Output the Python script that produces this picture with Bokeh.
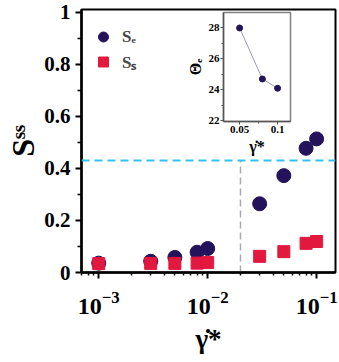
import math
from bokeh.plotting import figure
from bokeh.models import (Range1d, FixedTicker, Span, Legend, LegendItem, NumeralTickFormatter)
from bokeh.layouts import column
from bokeh.embed import file_html
from bokeh.resources import INLINE

# ---- data ----
shear_rate = [0.001, 0.003, 0.005, 0.008, 0.01, 0.03, 0.05, 0.08, 0.1]
S_e = [0.036, 0.043, 0.058, 0.078, 0.092, 0.264, 0.372, 0.477, 0.513]
S_s = [0.034, 0.035, 0.035, 0.036, 0.038, 0.062, 0.080, 0.112, 0.119]
threshold_rate = 0.02
threshold_S = 0.43

inset_rate = [0.05, 0.08, 0.1]
inset_theta = [28.0, 24.7, 24.1]

y_ticks = [0, 0.2, 0.4, 0.6, 0.8, 1.0]
y_minor = [0.1, 0.3, 0.5, 0.7, 0.9]
x_ticks = [1e-3, 1e-2, 1e-1]
x_minor = [k * 10.0 ** e for e in (-4, -3, -2, -1) for k in range(2, 10)]

inset_x_ticks = [0.05, 0.1]
inset_x_minor = [0.075]
inset_x_labels = ["0.05", "0.1"]
inset_y_ticks = [22, 24, 26, 28]
inset_y_minor = [23, 25, 27]

FONT = "Liberation Serif"
NAVY = "#23135a"
RED = "#e3183f"
CYAN = "#2ec3f2"

# ---- main plot ----
p = figure(width=339, height=362, x_axis_type="log",
           x_range=Range1d(0.000695, 0.149), y_range=Range1d(0, 1.01),
           min_border_left=81, min_border_right=3, min_border_top=9, min_border_bottom=90,
           output_backend="svg", toolbar_location=None)
p.grid.visible = False
p.outline_line_color = "black"
p.outline_line_width = 2
p.outline_line_alpha = 1

for ax in (p.xaxis[0], p.yaxis[0]):
    ax.axis_line_width = 2.5
    ax.major_tick_line_width = 2
    ax.minor_tick_line_width = 1.5
    ax.major_tick_in = 0
    ax.minor_tick_in = 0
    ax.major_tick_out = 6
    ax.minor_tick_out = 4
    ax.major_label_text_font = FONT
    ax.major_label_text_font_style = "bold"
    ax.major_label_text_color = "black"
    ax.axis_label_text_font = FONT
    ax.axis_label_text_font_style = "bold"
    ax.axis_label_text_color = "black"

p.yaxis.ticker = FixedTicker(ticks=y_ticks, minor_ticks=y_minor)
p.yaxis.formatter = NumeralTickFormatter(format="0.[0]")
p.yaxis.major_label_text_font_size = "21px"
p.yaxis.major_label_standoff = 5
p.yaxis.axis_label = "Sˢˢ"
p.yaxis.axis_label_text_font_size = "32px"
p.yaxis.axis_label_standoff = 0

p.xaxis.ticker = FixedTicker(ticks=x_ticks, minor_ticks=x_minor)
p.xaxis.major_label_text_font_size = "24px"
p.xaxis.major_label_standoff = 13
p.xaxis.minor_tick_out = 3
p.xaxis.axis_label = "γ̇*"
p.xaxis.axis_label_text_font_size = "27px"
p.xaxis.axis_label_standoff = 7

r_e = p.scatter(shear_rate, S_e, marker="circle", size=14, color=NAVY)
r_s = p.scatter(shear_rate, S_s, marker="square", size=12, color=RED)

p.segment(x0=[threshold_rate], y0=[0], x1=[threshold_rate], y1=[threshold_S],
          line_color="#aaaaaa", line_width=1.5, line_dash="7 4")
p.add_layout(Span(location=threshold_S, dimension="width", line_color=CYAN,
                  line_width=2, line_dash="8 5"))

legend = Legend(items=[LegendItem(label="Sₑ", renderers=[r_e]),
                       LegendItem(label="Sₛ", renderers=[r_s])],
                location=(-1, 190), glyph_width=30, glyph_height=25, label_height=25,
                spacing=0, padding=8, margin=0, label_standoff=4,
                border_line_alpha=0, background_fill_alpha=0,
                label_text_font=FONT, label_text_font_style="bold",
                label_text_font_size="17px")
p.add_layout(legend)

# ---- inset ----
q = figure(width=152, height=149, x_range=Range1d(0.0288, 0.117), y_range=Range1d(21.95, 29.0),
           min_border_left=45, min_border_right=4, min_border_top=4, min_border_bottom=30,
           output_backend="svg", toolbar_location=None)
q.grid.visible = False
q.border_fill_alpha = 0
q.background_fill_color = "white"
q.outline_line_color = "#808080"
q.outline_line_width = 1.5
q.line(inset_rate, inset_theta, line_color="#9a9ab8", line_width=1)
q.scatter(inset_rate, inset_theta, marker="circle", size=6, color=NAVY)
for ax in (q.xaxis[0], q.yaxis[0]):
    ax.axis_line_color = "#555555"
    ax.axis_line_width = 1.5
    ax.major_tick_line_color = "#555555"
    ax.minor_tick_line_color = "#555555"
    ax.major_tick_in = 0
    ax.minor_tick_in = 0
    ax.major_tick_out = 3
    ax.minor_tick_out = 2
    ax.major_label_standoff = 1
    ax.major_label_text_font = FONT
    ax.major_label_text_font_style = "bold"
    ax.major_label_text_font_size = "11px"
    ax.major_label_text_color = "black"
    ax.axis_label_text_font = FONT
    ax.axis_label_text_font_style = "bold"
    ax.axis_label_text_color = "black"
    ax.axis_label_standoff = 2
q.xaxis.ticker = FixedTicker(ticks=inset_x_ticks, minor_ticks=inset_x_minor)
q.xaxis.major_label_overrides = dict(zip(inset_x_ticks, inset_x_labels))
q.yaxis.ticker = FixedTicker(ticks=inset_y_ticks, minor_ticks=inset_y_minor)
q.xaxis.axis_label = "γ̇*"
q.xaxis.axis_label_text_font_size = "16px"
q.yaxis.axis_label = "Θₑ"
q.yaxis.axis_label_text_font_size = "16px"
q.styles = {"position": "absolute", "left": "142px", "top": "8px"}

layout = column(p, q)
open("out.html", "w").write(file_html(layout, INLINE))
